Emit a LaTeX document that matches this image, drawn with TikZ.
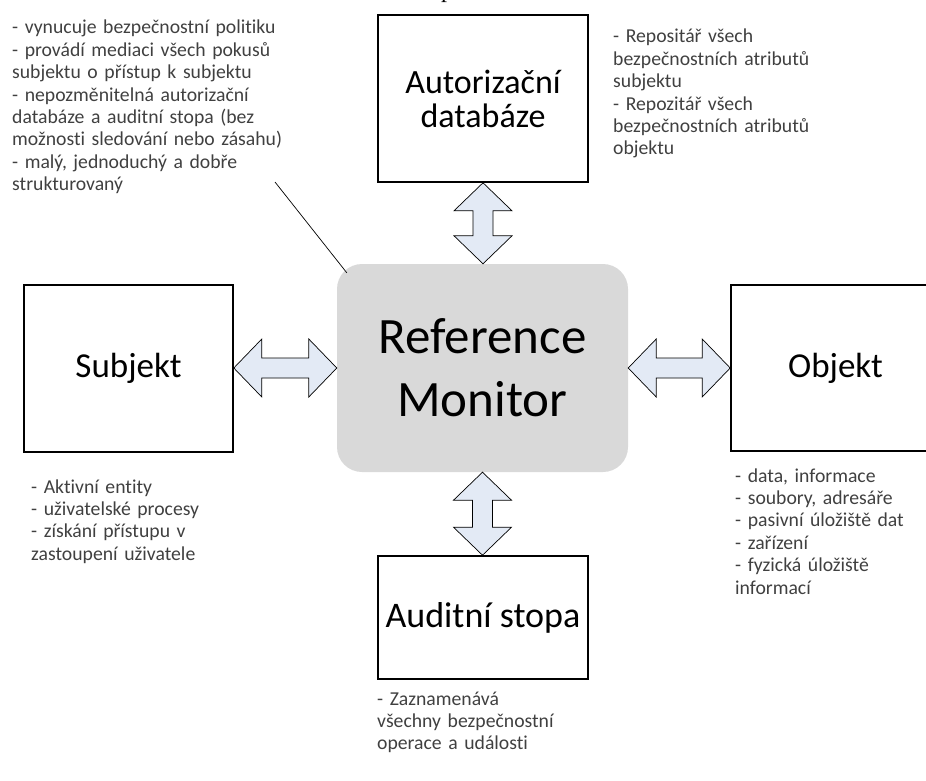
\documentclass[tikz,border=0pt]{standalone}
\usepackage{fontspec}
\setmainfont{Carlito}[Ligatures=NoCommon]
\newfontfamily\captionserif{Liberation Serif}
\usetikzlibrary{calc}
\definecolor{notegray}{HTML}{404040}
\definecolor{rmfill}{HTML}{D9D9D9}
\definecolor{arrowfill}{HTML}{E3EAF5}

% double block arrow between two points, horizontal (left to right)
\newcommand{\hblockarrow}[2]{%
  \draw[blockarrow] let \p1=(#1), \p2=(#2) in
    (\x1,\y2) -- (\x1+28pt,\y2+29pt) -- (\x1+28pt,\y2+10pt) -- (\x2-28pt,\y2+10pt)
    -- (\x2-28pt,\y2+29pt) -- (\x2,\y2) -- (\x2-28pt,\y2-29pt) -- (\x2-28pt,\y2-10pt)
    -- (\x1+28pt,\y2-10pt) -- (\x1+28pt,\y2-29pt) -- cycle;}
% double block arrow between two points, vertical (top to bottom)
\newcommand{\vblockarrow}[2]{%
  \draw[blockarrow] let \p1=(#1), \p2=(#2) in
    (\x1,\y1) -- (\x1+29pt,\y1-28pt) -- (\x1+10pt,\y1-28pt) -- (\x1+10pt,\y2+28pt)
    -- (\x1+29pt,\y2+28pt) -- (\x1,\y2) -- (\x1-29pt,\y2+28pt) -- (\x1-10pt,\y2+28pt)
    -- (\x1-10pt,\y1-28pt) -- (\x1-29pt,\y1-28pt) -- cycle;}

\begin{document}
\begin{tikzpicture}[x=1pt,y=-1pt,
  box/.style={draw=black,line width=1.6pt,fill=white,inner sep=0pt,align=center,text=black},
  note/.style={anchor=base west,inner sep=0pt,text width=330pt,align=left,text=notegray,
    font=\fontsize{19.7}{22.4}\selectfont},
  blockarrow/.style={draw=black,line width=0.7pt,fill=arrowfill,line join=miter}]
\useasboundingbox (0,0) rectangle (926,781);
\begin{scope}
\clip (0,0) rectangle (926,781);

% caption running above the frame
\node[anchor=base west,inner sep=0pt,font=\captionserif\fontsize{24}{24}\selectfont] (cap) at (441,-2.5) {p};

% central monitor
\node[fill=rmfill,rounded corners=25pt,minimum width=291pt,minimum height=208pt,inner sep=0pt,
  align=center,font=\fontsize{51}{63}\selectfont] (rm) at (482.5,368) {Reference\\Monitor};

% surrounding components
\node[box,minimum width=210pt,minimum height=167pt,font=\fontsize{34}{34}\selectfont] (auth) at (483,98.5) {Autorizační\\databáze};
\node[box,minimum width=209pt,minimum height=167pt,font=\fontsize{35}{35}\selectfont] (subj) at (128.5,368.5) {Subjekt};
\node[box,minimum width=209pt,minimum height=166pt,font=\fontsize{35}{35}\selectfont] (obj) at (835.5,368) {Objekt};
\node[box,minimum width=210pt,minimum height=123pt,font=\fontsize{36}{36}\selectfont] (audit) at (483,617.5) {Auditní stopa};

% block arrows
\hblockarrow{subj.east}{rm.west}
\hblockarrow{rm.east}{obj.west}
\vblockarrow{auth.south}{rm.north}
\vblockarrow{rm.south}{audit.north}

% notes
\node[note] (nrm) at (12,34) {- vynucuje bezpečnostní politiku\\- provádí mediaci všech pokusů\\subjektu o přístup k subjektu\\- nepozměnitelná autorizační\\databáze a auditní stopa (bez\\možnosti sledování nebo zásahu)\\- malý, jednoduchý a dobře\\strukturovaný};
\node[note] (nauth) at (613,43) {- Repositář všech\\bezpečnostních atributů\\subjektu\\- Repozitář všech\\bezpečnostních atributů\\objektu};
\node[note] (nsubj) at (31,493) {- Aktivní entity\\- uživatelské procesy\\- získání přístupu v\\zastoupení uživatele};
\node[note] (nobj) at (735,482) {- data, informace\\- soubory, adresáře\\- pasivní úložiště dat\\- zařízení\\- fyzická úložiště\\informací};
\node[note] (naudit) at (377,705) {- Zaznamenává\\všechny bezpečnostní\\operace a události};

% callout from the monitor note
\coordinate (callout) at (275,182);
\draw[line width=0.7pt] (callout) -- ($(rm.north west)+(10,9)$);
\end{scope}
\end{tikzpicture}
\end{document}
